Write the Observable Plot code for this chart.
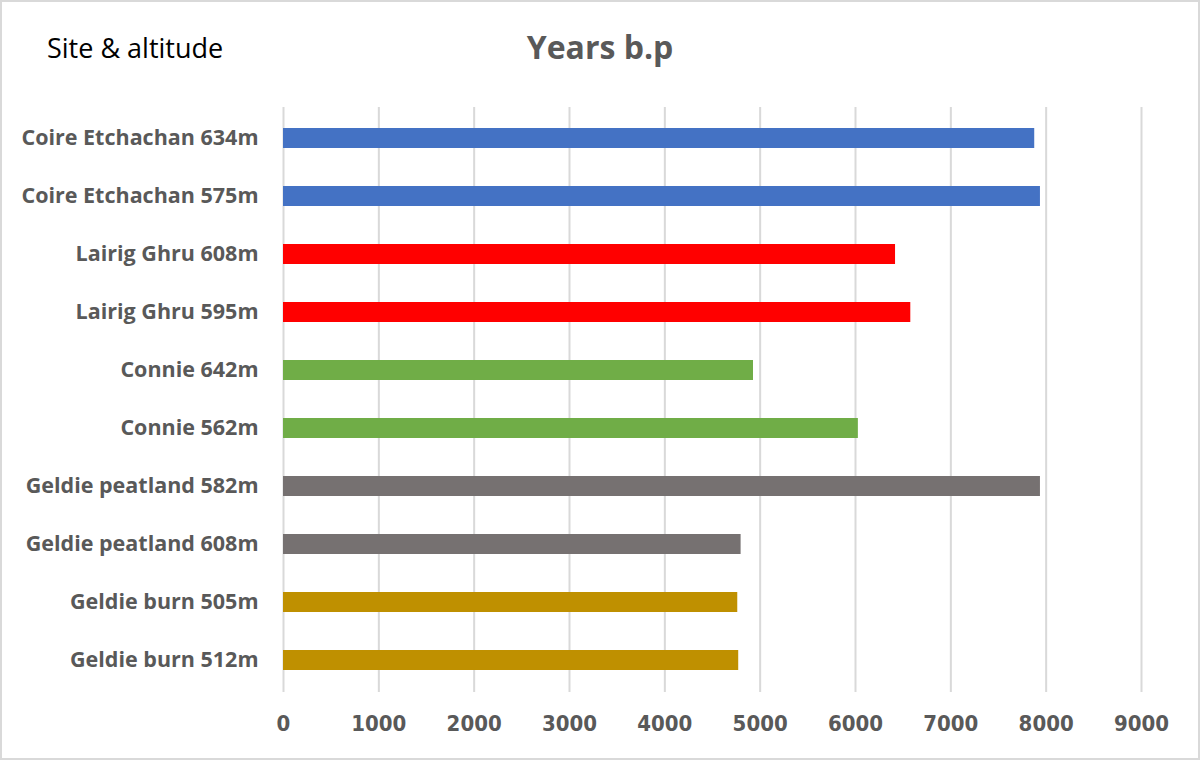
<!DOCTYPE html>
<html>
<head>
<meta charset="utf-8">
<script src="https://cdn.jsdelivr.net/npm/d3@7"></script>
<script src="https://cdn.jsdelivr.net/npm/@observablehq/plot@0.6"></script>
<style>
  html, body { margin: 0; padding: 0; background: #fff; }
  #wrap { position: relative; width: 1200px; height: 760px; box-sizing: border-box; border: 2px solid #d9d9d9; background: #fff; overflow: hidden; }
  #header { position: relative; height: 88px; }
  #ylabel { position: absolute; left: 45px; top: 28px; font-family: "Open Sans", sans-serif; font-size: 27px; color: #000; line-height: 36px; }
  #title { position: absolute; left: 0; width: 1196px; top: 22px; text-align: center; font-family: "Open Sans", sans-serif; font-weight: bold; font-size: 32px; color: #595959; line-height: 46px; }
</style>
</head>
<body>
<div id="wrap">
  <div id="header">
    <div id="ylabel">Site &amp; altitude</div>
    <div id="title">Years b.p</div>
  </div>
  <div id="chart"></div>
</div>
<script>
const labels = ["Coire Etchachan 634m","Coire Etchachan 575m","Lairig Ghru 608m","Lairig Ghru 595m","Connie 642m","Connie 562m","Geldie peatland 582m","Geldie peatland 608m","Geldie burn 505m","Geldie burn 512m"];
const sites = ["Coire Etchachan","Coire Etchachan","Lairig Ghru","Lairig Ghru","Connie","Connie","Geldie peatland","Geldie peatland","Geldie burn","Geldie burn"];
const years = [7880, 7940, 6420, 6580, 4930, 6030, 7940, 4800, 4765, 4775];
const siteNames = ["Coire Etchachan","Lairig Ghru","Connie","Geldie peatland","Geldie burn"];
const siteColors = ["#4472C4","#FF0000","#70AD47","#767171","#BF9000"];
const xTicks = [0,1000,2000,3000,4000,5000,6000,7000,8000,9000];

const data = labels.map((l, i) => ({label: l, site: sites[i], years: years[i]}));

const chart = Plot.plot({
  width: 1196,
  height: 670,
  marginTop: 17,
  marginBottom: 68,
  marginLeft: 281,
  marginRight: 57,
  x: {domain: [0, 9000], ticks: xTicks, grid: true, label: null, tickSize: 0, tickPadding: 22, tickFormat: d => String(d)},
  y: {domain: labels, label: null, paddingInner: 0.65, paddingOuter: 0.325, tickSize: 0, tickPadding: 25},
  color: {domain: siteNames, range: siteColors},
  style: {background: "#fff"},
  marks: [
    Plot.gridX(xTicks, {stroke: "#d9d9d9", strokeOpacity: 1, strokeWidth: 2}),
    Plot.barX(data, {x: "years", y: "label", fill: "site"}),
    Plot.axisY({tickSize: 0, tickPadding: 25, fontSize: 21.5, fontWeight: "bold", fill: "#595959", fontFamily: "Open Sans", label: null}),
    Plot.axisX(xTicks, {tickSize: 0, tickPadding: 23, fontSize: 22, fontWeight: "bold", fill: "#595959", fontFamily: "DejaVu Sans Condensed", label: null, tickFormat: d => String(d)})
  ]
});
document.getElementById("chart").appendChild(chart);
</script>
</body>
</html>
